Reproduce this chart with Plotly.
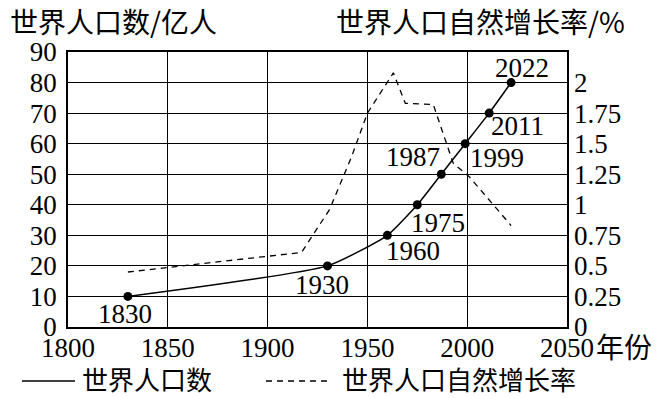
import plotly.graph_objects as go

# ---- data ----
pop_years = [1830, 1930, 1960, 1975, 1987, 1999, 2011, 2022]
pop_values = [10, 20, 30, 40, 50, 60, 70, 80]
pop_labels = ["1830", "1930", "1960", "1975", "1987", "1999", "2011", "2022"]

rate_years = [1830, 1917, 1931, 1942, 1950, 1963, 1969, 1983, 1993, 2001, 2022]
rate_values = [0.45, 0.61, 0.96, 1.39, 1.75, 2.08, 1.83, 1.82, 1.34, 1.23, 0.83]

x_ticks = [1800, 1850, 1900, 1950, 2000, 2050]
left_ticks = [0, 10, 20, 30, 40, 50, 60, 70, 80, 90]
right_ticks = [0, 0.25, 0.5, 0.75, 1, 1.25, 1.5, 1.75, 2]
right_tick_text = ["0", "0.25", "0.5", "0.75", "1", "1.25", "1.5", "1.75", "2"]

left_title = "世界人口数/亿人"
right_title = "世界人口自然增长率/%"
x_unit = "年份"
legend_pop = "世界人口数"
legend_rate = "世界人口自然增长率"

# ---- style ----
W, H = 664, 398
L, R, T, B = 68, 97, 52, 71
PW, PH = W - L - R, H - T - B
SERIF = "Liberation Serif, Times New Roman, serif"
CJK = "Noto Sans CJK SC, sans-serif"
NUM_SIZE = 27
CJK_SIZE = 28
label_offsets = [(-3, -18), (-5, -19), (26, -16), (21, -18), (-28, 17), (32, -14), (28, -13), (11, 15)]


def px(xp):
    return (xp - L) / PW


def py(yp):
    return (H - B - yp) / PH


fig = go.Figure()

fig.add_trace(go.Scatter(
    x=rate_years, y=rate_values, yaxis="y2", mode="lines",
    line=dict(color="black", width=1.3, dash="6px,5px"),
    showlegend=False, hoverinfo="skip"))

fig.add_trace(go.Scatter(
    x=pop_years, y=pop_values, mode="lines+markers",
    line=dict(color="black", width=1.5, shape="spline", smoothing=0.5),
    marker=dict(color="black", size=9),
    showlegend=False))

annotations = []
for yr, v, lab, (dx, dy) in zip(pop_years, pop_values, pop_labels, label_offsets):
    annotations.append(dict(x=yr, y=v, xref="x", yref="y", text=lab, showarrow=False,
                            xshift=dx, yshift=dy, font=dict(family=SERIF, size=NUM_SIZE, color="black")))

cjk_font = dict(family=CJK, size=CJK_SIZE, color="black")
leg_font = dict(family=CJK, size=26, color="black")
annotations += [
    dict(x=px(8), y=py(21), xref="paper", yref="paper", text=left_title, showarrow=False,
         xanchor="left", yanchor="middle", font=cjk_font),
    dict(x=px(334), y=py(21), xref="paper", yref="paper", text=right_title, showarrow=False,
         xanchor="left", yanchor="middle", font=cjk_font),
    dict(x=px(594), y=py(346), xref="paper", yref="paper", text=x_unit, showarrow=False,
         xanchor="left", yanchor="middle", font=cjk_font),
    dict(x=px(80), y=py(378), xref="paper", yref="paper", text=legend_pop, showarrow=False,
         xanchor="left", yanchor="middle", font=leg_font),
    dict(x=px(340), y=py(378), xref="paper", yref="paper", text=legend_rate, showarrow=False,
         xanchor="left", yanchor="middle", font=leg_font),
]

shapes = [
    dict(type="line", xref="paper", yref="paper", x0=px(22), x1=px(75), y0=py(381), y1=py(381),
         line=dict(color="black", width=1.5)),
    dict(type="line", xref="paper", yref="paper", x0=px(266), x1=px(330), y0=py(381), y1=py(381),
         line=dict(color="black", width=1.3, dash="6px,5px")),
]

axis_font = dict(family=SERIF, size=NUM_SIZE, color="black")
fig.update_layout(
    width=W, height=H,
    margin=dict(l=L, r=R, t=T, b=B, autoexpand=False),
    paper_bgcolor="white", plot_bgcolor="white",
    annotations=annotations, shapes=shapes,
    xaxis=dict(range=[1800, 2050], tickvals=x_ticks, ticktext=[str(v) for v in x_ticks],
               showgrid=True, gridcolor="black", gridwidth=1.3,
               showline=True, linecolor="black", linewidth=1.5, mirror=True,
               zeroline=False, ticks="", tickfont=axis_font, ticklabelstandoff=-4,
               automargin=False),
    yaxis=dict(range=[0, 90], tickvals=left_ticks, showgrid=True, gridcolor="black", gridwidth=1.3,
               showline=True, linecolor="black", linewidth=1.5, mirror=True,
               zeroline=False, ticks="", tickfont=axis_font, ticklabelstandoff=4,
               automargin=False),
    yaxis2=dict(range=[0, 2.25], overlaying="y", side="right", tickvals=right_ticks,
                ticktext=right_tick_text, showgrid=False, zeroline=False, showline=False,
                ticks="", tickfont=axis_font, ticklabelstandoff=6, automargin=False),
)

fig.write_html("out.html", config={"displayModeBar": False},
               post_script="document.body.style.margin='0';document.body.style.padding='0';")
